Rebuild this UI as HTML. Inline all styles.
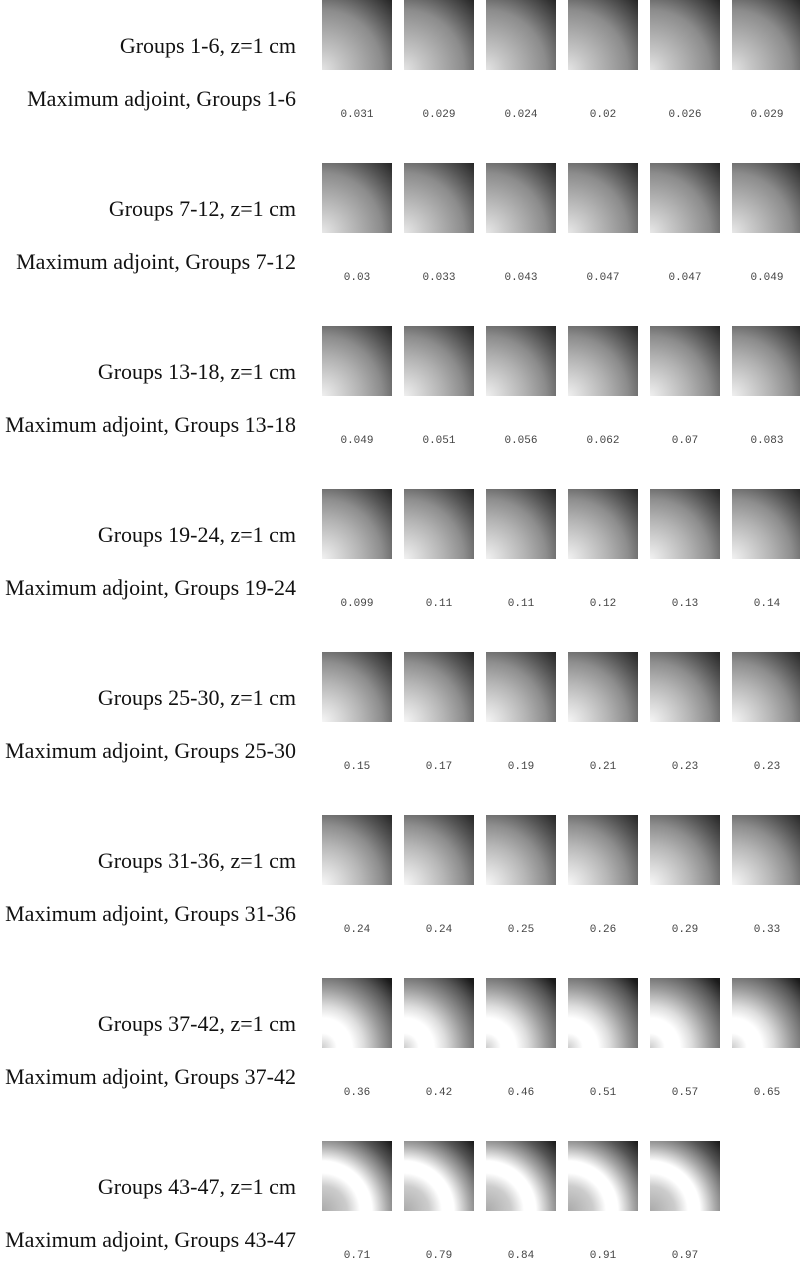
<!DOCTYPE html>
<html><head><meta charset="utf-8"><style>
body{margin:0;width:800px;height:1259px;background:#fff;position:relative;overflow:hidden}
.lbl{position:absolute;right:504px;font-family:"Liberation Serif",serif;font-size:22px;color:#111;white-space:nowrap;line-height:1}
.tile{position:absolute;width:70px;height:70px}
.val{position:absolute;width:70px;text-align:center;font-family:"Liberation Mono",monospace;font-size:11px;color:#444;line-height:1}
</style></head><body>
<script>
const groupRanges=["1-6","7-12","13-18","19-24","25-30","31-36","37-42","43-47"];
const maxValues=[
["0.031","0.029","0.024","0.02","0.026","0.029"],
["0.03","0.033","0.043","0.047","0.047","0.049"],
["0.049","0.051","0.056","0.062","0.07","0.083"],
["0.099","0.11","0.11","0.12","0.13","0.14"],
["0.15","0.17","0.19","0.21","0.23","0.23"],
["0.24","0.24","0.25","0.26","0.29","0.33"],
["0.36","0.42","0.46","0.51","0.57","0.65"],
["0.71","0.79","0.84","0.91","0.97"]];
const grads=[
"#e4e4e4 0px,#c4c4c4 20px,#a8a8a8 40px,#8c8c8c 60px,#555 80px,#222 100px",
"#e8e8e8 0px,#c8c8c8 20px,#aaa 40px,#8c8c8c 60px,#555 80px,#222 100px",
"#f0f0f0 0px,#d0d0d0 20px,#b0b0b0 40px,#8c8c8c 60px,#555 80px,#222 100px",
"#f2f2f2 0px,#d2d2d2 20px,#b2b2b2 40px,#8e8e8e 60px,#555 80px,#222 100px",
"#f6f6f6 0px,#d6d6d6 20px,#b4b4b4 40px,#8e8e8e 60px,#555 80px,#222 100px",
"#f8f8f8 0px,#d8d8d8 20px,#b6b6b6 40px,#8e8e8e 60px,#555 80px,#222 100px",
"#ccc 0px,#fff 15px,#fff 30px,#ddd 42px,#999 60px,#555 80px,#1a1a1a 95px",
"#aaa 0px,#ccc 25px,#fff 38px,#fff 50px,#aaa 65px,#555 82px,#1a1a1a 98px"];
const rowPitch=163, colPitch=82, x0=322;
groupRanges.forEach((g,r)=>{
  const top=r*rowPitch;
  const a=document.createElement('div');a.className='lbl';a.style.top=(top+35)+'px';a.textContent='Groups '+g+', z=1 cm';
  
  
  document.body.appendChild(a);
  const b=document.createElement('div');b.className='lbl';b.style.top=(top+88)+'px';b.textContent='Maximum adjoint, Groups '+g;
  
  
  document.body.appendChild(b);
  maxValues[r].forEach((v,c)=>{
    const t=document.createElement('div');t.className='tile';
    t.style.left=(x0+c*colPitch)+'px';t.style.top=top+'px';
    t.style.background='radial-gradient(circle at 0% 100%,'+grads[r]+')';
    
    
    document.body.appendChild(t);
    const l=document.createElement('div');l.className='val';
    l.style.left=(x0+c*colPitch)+'px';l.style.top=(top+110)+'px';l.textContent=v;
    
    
    document.body.appendChild(l);
  });
});
</script>
</body></html>
